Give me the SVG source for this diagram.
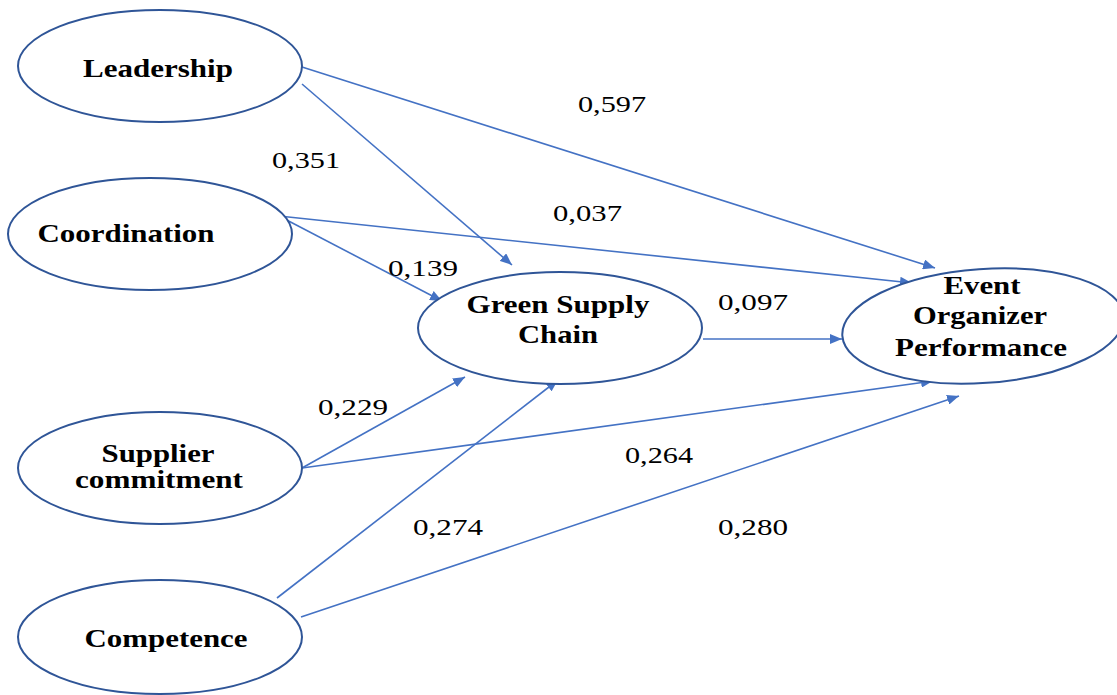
<svg xmlns="http://www.w3.org/2000/svg" width="1117" height="695" viewBox="0 0 1117 695">
<defs>
<style>
.node{fill:#fff;stroke:#2F5597;stroke-width:2}
.lbl{font-family:"Liberation Serif","Times New Roman",serif;font-weight:bold;font-size:25px;fill:#000;text-anchor:middle}
.val{font-family:"Liberation Serif","Times New Roman",serif;font-size:23px;fill:#000}
.edge{stroke:#4472C4;stroke-width:1.6;fill:none;marker-end:url(#ah)}
</style>
<marker id="ah" viewBox="0 0 12 10" refX="12" refY="5" markerWidth="12" markerHeight="10" markerUnits="userSpaceOnUse" orient="auto">
<path d="M0,0 L12,5 L0,10 z" fill="#4472C4"/>
</marker>
</defs>
<rect width="1117" height="695" fill="#fff"/>
<g id="connectors">
<line class="edge" x1="302" y1="67" x2="935" y2="268"/>
<line class="edge" x1="302" y1="84" x2="512" y2="265"/>
<line class="edge" x1="279" y1="216" x2="912" y2="283"/>
<line class="edge" x1="279" y1="216" x2="442" y2="301"/>
<line class="edge" x1="703" y1="339" x2="842" y2="339"/>
<line class="edge" x1="302" y1="468" x2="465" y2="377"/>
<line class="edge" x1="302" y1="468" x2="933" y2="381"/>
<line class="edge" x1="277" y1="598" x2="558" y2="380"/>
<line class="edge" x1="301" y1="617" x2="959" y2="396"/>
</g>
<g id="leadership">
<ellipse class="node" cx="160" cy="66" rx="142" ry="56"/>
<text class="lbl" x="158" y="77" textLength="150" lengthAdjust="spacingAndGlyphs">Leadership</text>
</g>
<g id="coordination">
<ellipse class="node" cx="150" cy="234" rx="142" ry="56"/>
<text class="lbl" x="126" y="242" textLength="177" lengthAdjust="spacingAndGlyphs">Coordination</text>
</g>
<g id="supplier">
<ellipse class="node" cx="160" cy="468" rx="142" ry="56"/>
<text class="lbl" x="158" y="462" textLength="113" lengthAdjust="spacingAndGlyphs">Supplier</text>
<text class="lbl" x="159" y="488" textLength="168" lengthAdjust="spacingAndGlyphs">commitment</text>
</g>
<g id="competence">
<ellipse class="node" cx="160" cy="637" rx="142" ry="57"/>
<text class="lbl" x="166" y="647" textLength="163" lengthAdjust="spacingAndGlyphs">Competence</text>
</g>
<g id="gsc">
<ellipse class="node" cx="560" cy="328" rx="142" ry="56"/>
<text class="lbl" x="558" y="313" textLength="183" lengthAdjust="spacingAndGlyphs">Green Supply</text>
<text class="lbl" x="558" y="343" textLength="80" lengthAdjust="spacingAndGlyphs">Chain</text>
</g>
<g id="eop">
<ellipse class="node" cx="983" cy="326" rx="141" ry="57" transform="rotate(-4 983 326)"/>
<text class="lbl" x="982" y="294" textLength="77" lengthAdjust="spacingAndGlyphs">Event</text>
<text class="lbl" x="980" y="324" textLength="134" lengthAdjust="spacingAndGlyphs">Organizer</text>
<text class="lbl" x="981" y="356" textLength="172" lengthAdjust="spacingAndGlyphs">Performance</text>
</g>
<g id="values">
<text class="val" x="578" y="112" textLength="68" lengthAdjust="spacingAndGlyphs">0,597</text>
<text class="val" x="272" y="168" textLength="68" lengthAdjust="spacingAndGlyphs">0,351</text>
<text class="val" x="553" y="221" textLength="69" lengthAdjust="spacingAndGlyphs">0,037</text>
<text class="val" x="388" y="276" textLength="70" lengthAdjust="spacingAndGlyphs">0,139</text>
<text class="val" x="718" y="310" textLength="70" lengthAdjust="spacingAndGlyphs">0,097</text>
<text class="val" x="318" y="415" textLength="70" lengthAdjust="spacingAndGlyphs">0,229</text>
<text class="val" x="625" y="463" textLength="68" lengthAdjust="spacingAndGlyphs">0,264</text>
<text class="val" x="413" y="535" textLength="70" lengthAdjust="spacingAndGlyphs">0,274</text>
<text class="val" x="718" y="535" textLength="70" lengthAdjust="spacingAndGlyphs">0,280</text>
</g>
</svg>
